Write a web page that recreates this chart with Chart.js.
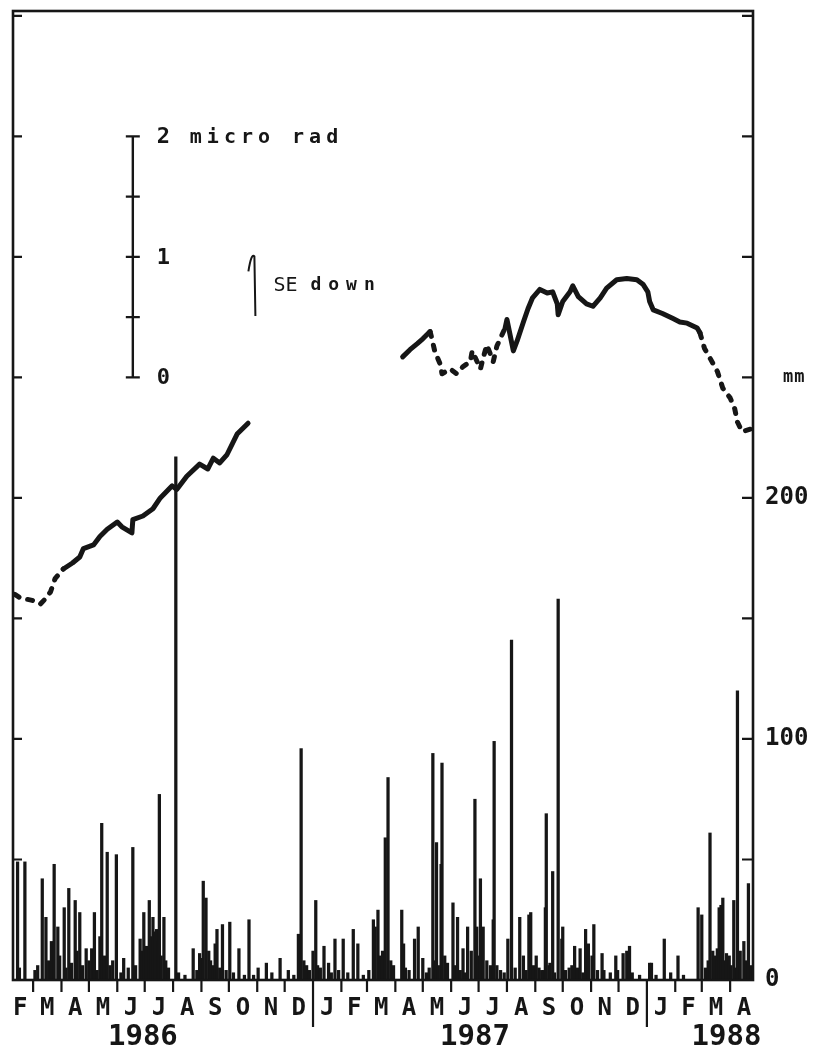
<!DOCTYPE html>
<html>
<head>
<meta charset="utf-8">
<script src="https://cdn.jsdelivr.net/npm/chart.js@4.4.1/dist/chart.umd.min.js"></script>
<style>
html,body{margin:0;padding:0;background:#fff;}
canvas{display:block;}
</style>
</head>
<body>
<canvas id="c" width="819" height="1055"></canvas>
<script>
// ---- Data (x = day count from 1 Jan 1986) ----
// Daily rainfall, mm
const rainDay1986 = [42,44,50,61,64,69,73,76,79,82,86,88,93,95,98,101,105,107,110,113,117,120,123,126,129,132,134,137,140,143,146,150,155,158,163,168,171,176,178,180,183,186,188,190,192,194,196,197,199,202,204,207,215,218,225,234,238,241,243,245,248,251,253,256,258,260,263,266,270,274,278,284,290,295,300,305,314,320,329,338,344,349,352,355,358,361];
const rainMm1986  = [49,5,49,4,6,42,26,8,16,48,22,10,30,5,38,7,33,12,28,6,13,8,13,28,4,18,65,10,53,6,8,52,3,9,5,55,6,17,12,28,14,33,18,26,20,21,16,77,10,26,8,5,217,3,2,13,4,11,9,41,34,12,8,6,15,21,5,23,4,24,3,13,2,25,2,5,7,3,9,4,2,19,96,8,6,4];
const rainDay1987 = [365,368,370,373,377,382,385,389,393,398,403,409,414,420,426,431,433,436,438,441,444,447,450,453,462,464,466,470,476,480,485,489,492,496,498,500,502,505,506,509,512,518,520,523,526,529,531,534,538,542,544,546,548,551,555,559,562,563,566,570,574,578,582,586,591,595,598,601,603,606,609,612,615,617,619,620,623,624,627,629,633,637,638,641,645,648,651,654,657,660,663,666,670,672,676,681,683,690,696,698,704,708,711,714,722];
const rainMm1987  = [12,33,6,5,14,7,3,17,4,17,3,21,15,2,4,25,22,29,10,12,59,84,8,6,29,15,5,4,17,22,9,3,5,94,8,57,6,48,90,10,7,32,6,26,4,13,3,22,12,75,22,10,42,22,8,6,25,99,6,4,3,17,141,5,26,10,4,27,28,6,10,5,4,4,30,69,6,7,45,3,158,17,22,4,5,6,14,5,13,3,21,15,10,23,4,11,4,3,10,4,11,12,14,3,2];
const rainDay1988 = [733,735,740,749,756,764,770,786,790,794,797,799,802,804,807,809,811,813,815,817,820,822,825,827,829,832,836,838,841,844];
const rainMm1988  = [7,7,2,17,3,10,2,30,27,5,8,61,12,10,13,30,31,34,8,11,10,6,33,5,120,12,16,8,40,6];

// Tilt, micro radian (SE down positive)
const tiltDay1986 = [39,45,58,67,72,78,83,92,102,110,114,125,132,140,151,156,167,168,179,190,198,211,216,227,241,250,256,263,271,282,294];
const tiltVal1986 = [-1.80,-1.83,-1.85,-1.88,-1.84,-1.78,-1.67,-1.59,-1.54,-1.49,-1.42,-1.39,-1.32,-1.26,-1.20,-1.24,-1.29,-1.18,-1.15,-1.09,-1.00,-0.90,-0.93,-0.82,-0.72,-0.76,-0.67,-0.71,-0.64,-0.47,-0.38];
const tiltDay1987 = [463,471,479,485,493,495,498,504,506,515,522,529,537,539,548,551,555,562,566,575,577,584,588,595,600,605,613,621,627,632,633,638,646,649,655,664,671,679,686,697,708,719,726,731,733,737,747,758,766,774,785,788,793,799,807,813,821,826,829,834,843];
const tiltVal1987 = [0.17,0.23,0.28,0.32,0.38,0.32,0.22,0.11,0.03,0.07,0.03,0.09,0.13,0.22,0.07,0.16,0.27,0.13,0.26,0.41,0.48,0.22,0.30,0.46,0.57,0.66,0.73,0.70,0.71,0.61,0.52,0.63,0.71,0.76,0.67,0.61,0.59,0.66,0.74,0.81,0.82,0.81,0.77,0.71,0.63,0.56,0.53,0.49,0.46,0.45,0.41,0.37,0.24,0.16,0.05,-0.09,-0.17,-0.26,-0.37,-0.45,-0.43];

// Axis labels
const monthLetters = ['F','M','A','M','J','J','A','S','O','N','D','J','F','M','A','M','J','J','A','S','O','N','D','J','F','M','A'];
const yearLabels = ['1986','1987','1988'];
const rainTickLabels = {0:'0',100:'100',200:'200',250:'mm'};
const tiltScaleTicks = [0,0.5,1,1.5,2];
const tiltScaleLabels = {0:'0',1:'1',2:'2'};

// ---- Layout / style constants ----
const DAY0 = Date.UTC(1986,0,1);
const dayOf = (y,m,d) => (Date.UTC(y,m,d||1)-DAY0)/86400000;
const X_MIN = 37, X_MAX = 846;
const RAIN_MAX = 402, RAIN_STEP = 50;
const TILT_MIN = -5, TILT_MAX = 3.04;
const yearLabelDay = [179, 542, 817];
const dottedSpans = [[37,92],[493,575],[790,846]];
const INK = '#161616';
const MONO = '"DejaVu Sans Mono", monospace';

const rainData = []
  .concat(rainDay1986.map((d,i)=>({x:d,y:rainMm1986[i]})))
  .concat(rainDay1987.map((d,i)=>({x:d,y:rainMm1987[i]})))
  .concat(rainDay1988.map((d,i)=>({x:d,y:rainMm1988[i]})));
const tiltData = tiltDay1986.map((d,i)=>({x:d,y:tiltVal1986[i]}))
  .concat([{x:(tiltDay1986[tiltDay1986.length-1]+tiltDay1987[0])/2, y:null}])
  .concat(tiltDay1987.map((d,i)=>({x:d,y:tiltVal1987[i]})));

const inDotted = (c) => {
  const m = (c.p0.parsed.x + c.p1.parsed.x)/2;
  return dottedSpans.some(s => m >= s[0] && m <= s[1]);
};

const plotFrame = {
  id:'plotFrame',
  afterDraw(chart){
    const {ctx, chartArea:a, scales} = chart;
    const x = scales.x, y = scales.y, tilt = scales.tilt;
    ctx.save();
    ctx.strokeStyle = INK; ctx.fillStyle = INK; ctx.lineCap = 'butt';
    // frame
    ctx.lineWidth = 2.6;
    ctx.strokeRect(a.left, a.top, a.right-a.left, a.bottom-a.top);
    // y ticks (inward, both sides)
    ctx.lineWidth = 2.2;
    ctx.beginPath();
    for (let v = RAIN_STEP; v < RAIN_MAX; v += RAIN_STEP){
      const py = y.getPixelForValue(v);
      ctx.moveTo(a.left, py); ctx.lineTo(a.left+9, py);
      ctx.moveTo(a.right-11, py); ctx.lineTo(a.right, py);
    }
    ctx.stroke();
    // month ticks and labels
    let k = 0;
    ctx.textAlign = 'center'; ctx.textBaseline = 'middle';
    ctx.font = 'bold 24px ' + MONO;
    for (let yr = 1986; yr <= 1988; yr++){
      for (let m = 0; m < 12; m++){
        const s = dayOf(yr,m), e = dayOf(yr,m+1);
        if (e <= X_MIN || s >= X_MAX) continue;
        if (s > X_MIN){
          const px = x.getPixelForValue(s);
          ctx.beginPath();
          ctx.lineWidth = 2.2;
          ctx.moveTo(px, a.bottom);
          ctx.lineTo(px, a.bottom + (m === 0 ? 47 : 12));
          ctx.stroke();
        }
        if (k < monthLetters.length){
          ctx.fillText(monthLetters[k], x.getPixelForValue((s+e)/2), a.bottom+29);
          k++;
        }
      }
    }
    // year labels
    ctx.font = 'bold 29px ' + MONO;
    yearLabels.forEach((t,i)=>{
      ctx.fillText(t, x.getPixelForValue(yearLabelDay[i]), a.bottom+57);
    });
    // right labels (mm)
    ctx.textAlign = 'left';
    Object.keys(rainTickLabels).forEach(v=>{
      const t = rainTickLabels[v];
      const py = y.getPixelForValue(+v);
      if (t === 'mm'){
        ctx.font = 'bold 17px ' + MONO;
        ctx.letterSpacing = '1px';
        ctx.fillText(t, a.right+30, py);
        ctx.letterSpacing = '0px';
      } else {
        ctx.font = 'bold 24px ' + MONO;
        ctx.fillText(t, a.right+12, py);
      }
    });
    // tilt scale bar (inset)
    const bx = x.getPixelForValue(168);
    ctx.lineWidth = 2.4;
    ctx.beginPath();
    ctx.moveTo(bx, tilt.getPixelForValue(0));
    ctx.lineTo(bx, tilt.getPixelForValue(2));
    tiltScaleTicks.forEach(v=>{
      const py = tilt.getPixelForValue(v);
      ctx.moveTo(bx-7, py); ctx.lineTo(bx+7, py);
    });
    ctx.stroke();
    ctx.font = 'bold 22px ' + MONO;
    ctx.textBaseline = 'middle';
    Object.keys(tiltScaleLabels).forEach(v=>{
      ctx.fillText(tiltScaleLabels[v], bx+24, tilt.getPixelForValue(+v)+1);
    });
    ctx.font = 'bold 20px ' + MONO;
    ctx.letterSpacing = '5px';
    ctx.fillText('micro rad', bx+57, tilt.getPixelForValue(2)+1);
    ctx.letterSpacing = '0px';
    // SE down arrow
    const ax = x.getPixelForValue(302);
    const aTop = tilt.getPixelForValue(1.02), aBot = tilt.getPixelForValue(0.51);
    ctx.lineWidth = 2;
    ctx.beginPath();
    ctx.moveTo(ax-7, aTop+17);
    ctx.quadraticCurveTo(ax-4, aTop-2, ax-1, aTop+2);
    ctx.lineTo(ax, aBot);
    ctx.stroke();
    const ty = tilt.getPixelForValue(0.76);
    ctx.font = '20px ' + MONO;
    ctx.fillText('SE', ax+18, ty);
    ctx.font = 'bold 18px ' + MONO;
    ctx.letterSpacing = '7px';
    ctx.fillText('down', ax+55, ty);
    ctx.restore();
  }
};

new Chart(document.getElementById('c'), {
  type:'bar',
  data:{
    datasets:[
      { type:'line', label:'Tilt (micro rad)', data:tiltData, xAxisID:'x', yAxisID:'tilt',
        borderColor:INK, borderWidth:5, pointRadius:0, tension:0, spanGaps:false,
        borderCapStyle:'round', borderJoinStyle:'round', order:0,
        segment:{ borderDash: c => inDotted(c) ? [5,9] : undefined } },
      { type:'bar', label:'Rainfall (mm)', data:rainData, xAxisID:'x', yAxisID:'y',
        backgroundColor:INK, borderWidth:0, barThickness:2.6, grouped:false, order:1 }
    ]
  },
  options:{
    responsive:false, animation:false, devicePixelRatio:1,
    layout:{padding:{left:13, right:66, top:11, bottom:75}},
    plugins:{legend:{display:false}, tooltip:{enabled:false}},
    scales:{
      x:{type:'linear', min:X_MIN, max:X_MAX, display:false, offset:false},
      y:{type:'linear', min:0, max:RAIN_MAX, display:false, position:'right'},
      tilt:{type:'linear', min:TILT_MIN, max:TILT_MAX, display:false, position:'left'}
    }
  },
  plugins:[plotFrame]
});
</script>
</body>
</html>
